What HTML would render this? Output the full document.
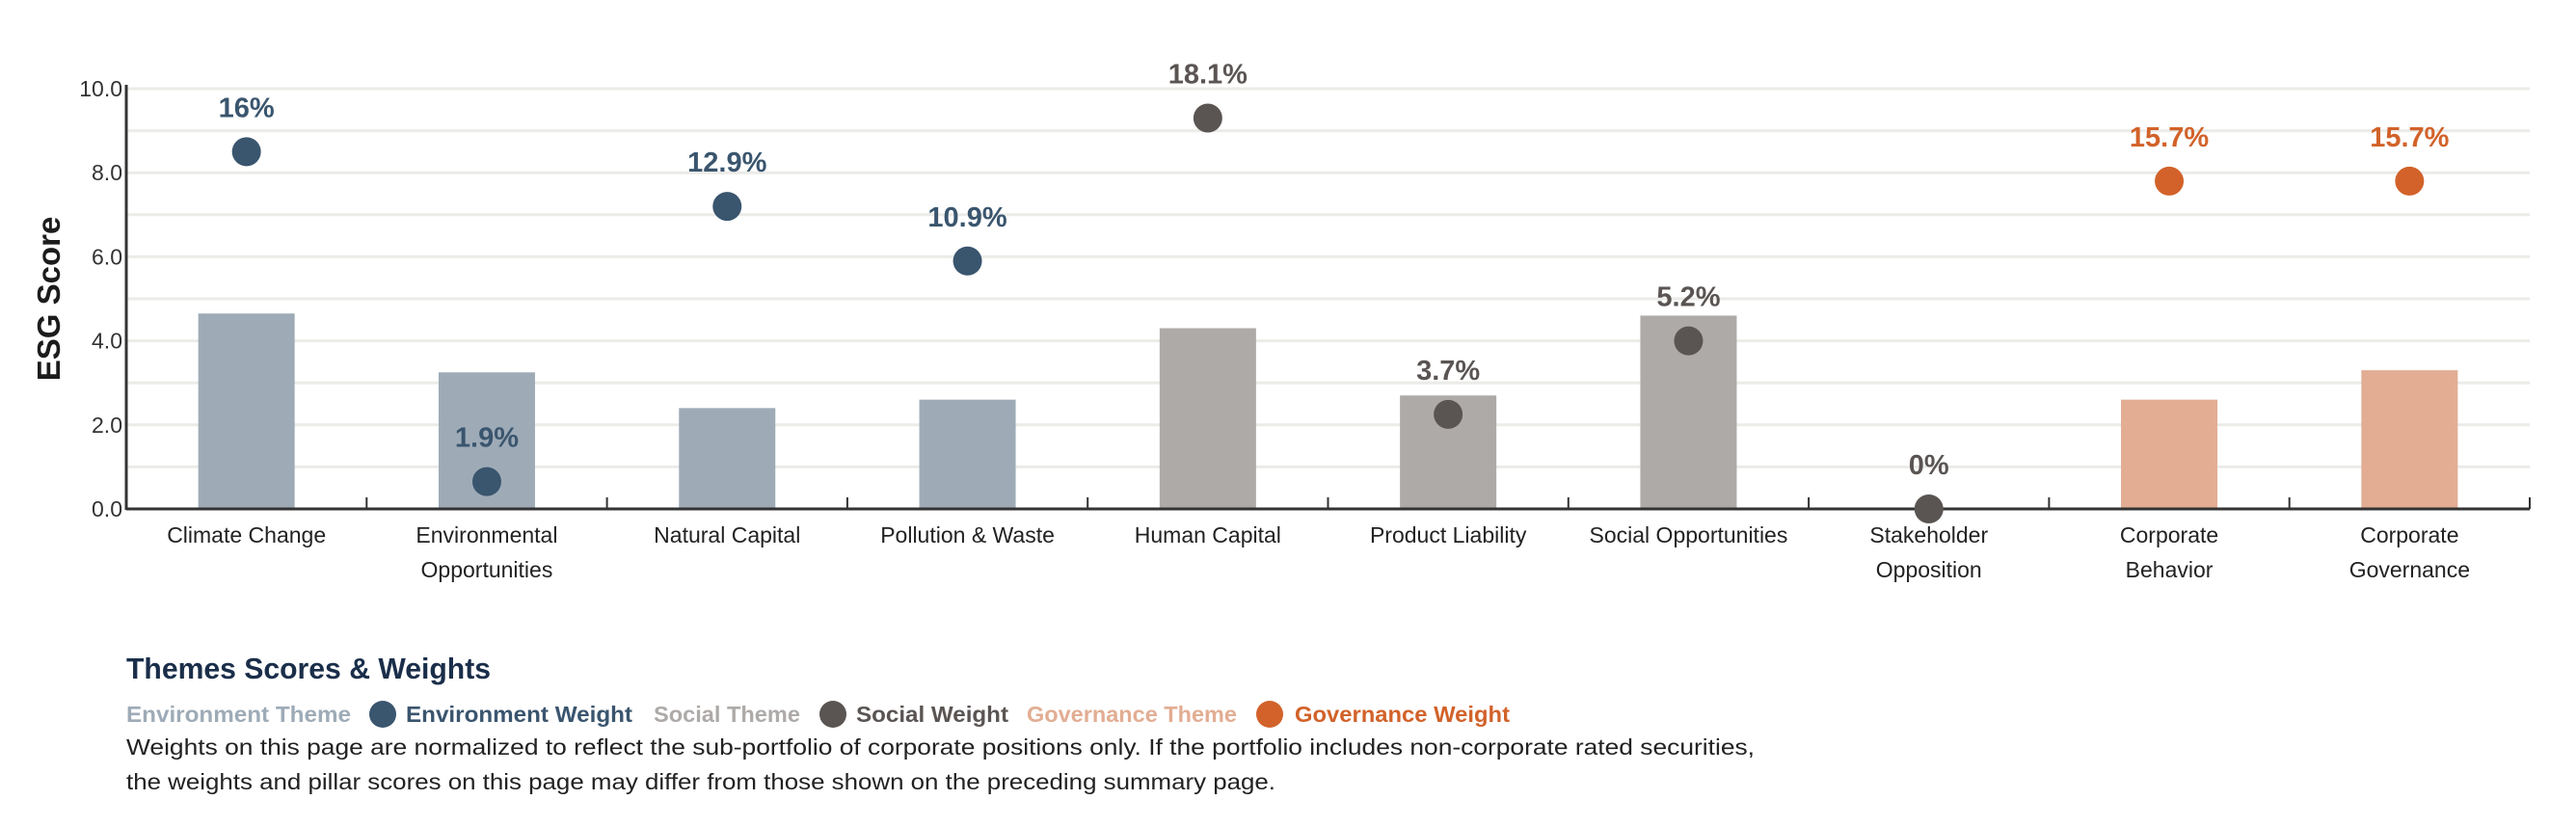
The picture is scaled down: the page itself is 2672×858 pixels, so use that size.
<!DOCTYPE html>
<html><head><meta charset="utf-8"><style>
html,body{margin:0;padding:0;background:#fff;}
svg{display:block;font-family:"Liberation Sans Narrow","Liberation Sans",sans-serif;}
</style></head><body>
<svg id="chart" width="2672" height="858" viewBox="0 0 2672 858">
<g id="grid"></g>
<g id="bars"></g>
<g id="axes"></g>
<g id="dots"></g>
<text transform="translate(62,310) rotate(-90)" text-anchor="middle" font-family="Liberation Sans, sans-serif" font-weight="bold" font-size="33" fill="#1c1c1c">ESG Score</text>
<text x="131" y="704" font-weight="bold" font-size="31" fill="#1a2e4a" textLength="378" lengthAdjust="spacingAndGlyphs">Themes Scores &amp; Weights</text>
<g font-weight="bold" font-size="23">
<text x="131" y="749" fill="#9eabb7" textLength="233" lengthAdjust="spacingAndGlyphs">Environment Theme</text>
<circle cx="397" cy="741" r="14" fill="#3a556e"/>
<text x="421" y="749" fill="#3a556e" textLength="235" lengthAdjust="spacingAndGlyphs">Environment Weight</text>
<text x="678" y="749" fill="#aeaaa8" textLength="152" lengthAdjust="spacingAndGlyphs">Social Theme</text>
<circle cx="864" cy="741" r="14" fill="#5a5553"/>
<text x="888" y="749" fill="#5a5553" textLength="158" lengthAdjust="spacingAndGlyphs">Social Weight</text>
<text x="1065" y="749" fill="#e2ad93" textLength="218" lengthAdjust="spacingAndGlyphs">Governance Theme</text>
<circle cx="1317" cy="741" r="14" fill="#d2622a"/>
<text x="1343" y="749" fill="#d2622a" textLength="223" lengthAdjust="spacingAndGlyphs">Governance Weight</text>
</g>
<text x="131" y="783" font-size="23" fill="#222" textLength="1689" lengthAdjust="spacingAndGlyphs">Weights on this page are normalized to reflect the sub-portfolio of corporate positions only. If the portfolio includes non-corporate rated securities,</text>
<text x="131" y="819" font-size="23" fill="#222" textLength="1192" lengthAdjust="spacingAndGlyphs">the weights and pillar scores on this page may differ from those shown on the preceding summary page.</text>
</svg>
<script>
const categories = [["Climate Change"],["Environmental","Opportunities"],["Natural Capital"],["Pollution & Waste"],["Human Capital"],["Product Liability"],["Social Opportunities"],["Stakeholder","Opposition"],["Corporate","Behavior"],["Corporate","Governance"]];
const pillars = ["env","env","env","env","soc","soc","soc","soc","gov","gov"];
const scores = [4.65, 3.25, 2.4, 2.6, 4.3, 2.7, 4.6, 0, 2.6, 3.3];
const weights = [8.5, 0.65, 7.2, 5.9, 9.3, 2.25, 4.0, 0.0, 7.8, 7.8];
const weightLabels = ["16%","1.9%","12.9%","10.9%","18.1%","3.7%","5.2%","0%","15.7%","15.7%"];
const yTicks = [0,2,4,6,8,10];
const yTickLabels = ["0.0","2.0","4.0","6.0","8.0","10.0"];

const NS="http://www.w3.org/2000/svg";
const X0=131, X1=2624, Y0=528, Y10=92;
const bw=(X1-X0)/categories.length;
const y=v=>Y0-(v/10)*(Y0-Y10);
const xc=i=>X0+bw*(i+0.5);
const barCol={env:"#9eabb7",soc:"#aeaaa8",gov:"#e2ad93"};
const dotCol={env:"#3a556e",soc:"#5a5553",gov:"#d2622a"};
function mk(tag,attrs,parent){const e=document.createElementNS(NS,tag);for(const k in attrs)e.setAttribute(k,attrs[k]);parent.appendChild(e);return e;}
const grid=document.getElementById('grid'),bars=document.getElementById('bars'),axes=document.getElementById('axes'),dots=document.getElementById('dots');
for(let v=1;v<=10;v++){
  const l=mk('line',{x1:X0,x2:X1,y1:y(v),y2:y(v),stroke:"#ebebe8","stroke-width":3},grid);
  
  
}
yTicks.forEach((v,i)=>{
  const t=mk('text',{x:X0-4,y:y(v)+8,"text-anchor":"end","font-size":23,fill:"#333"},axes);
  
  
  t.textContent=yTickLabels[i];
});
categories.forEach((c,i)=>{
  if(scores[i]>0){
    const r=mk('rect',{x:xc(i)-50,y:y(scores[i]),width:100,height:Y0-y(scores[i]),fill:barCol[pillars[i]]},bars);
    
    
  }
  c.forEach((line,j)=>{
    const t=mk('text',{x:xc(i),y:563+j*36,"text-anchor":"middle","font-size":23,fill:"#222"},axes);
    
    
    t.textContent=line;
  });
  const tk=mk('line',{x1:X0+bw*(i+1),x2:X0+bw*(i+1),y1:Y0,y2:Y0-12,stroke:"#333","stroke-width":2},axes);
  
  
  const d=mk('circle',{cx:xc(i),cy:y(weights[i]),r:15,fill:dotCol[pillars[i]]},dots);
  
  
  const lb=mk('text',{x:xc(i),y:y(weights[i])-36,"text-anchor":"middle","font-size":29,"font-weight":"bold",fill:dotCol[pillars[i]]},dots);
  
  
  lb.textContent=weightLabels[i];
});
const ya=mk('line',{x1:X0,x2:X0,y1:Y10-4,y2:Y0+1,stroke:"#333","stroke-width":3},axes);


const xa=mk('line',{x1:X0,x2:X1,y1:Y0,y2:Y0,stroke:"#333","stroke-width":3},axes);


</script>
</body></html>
